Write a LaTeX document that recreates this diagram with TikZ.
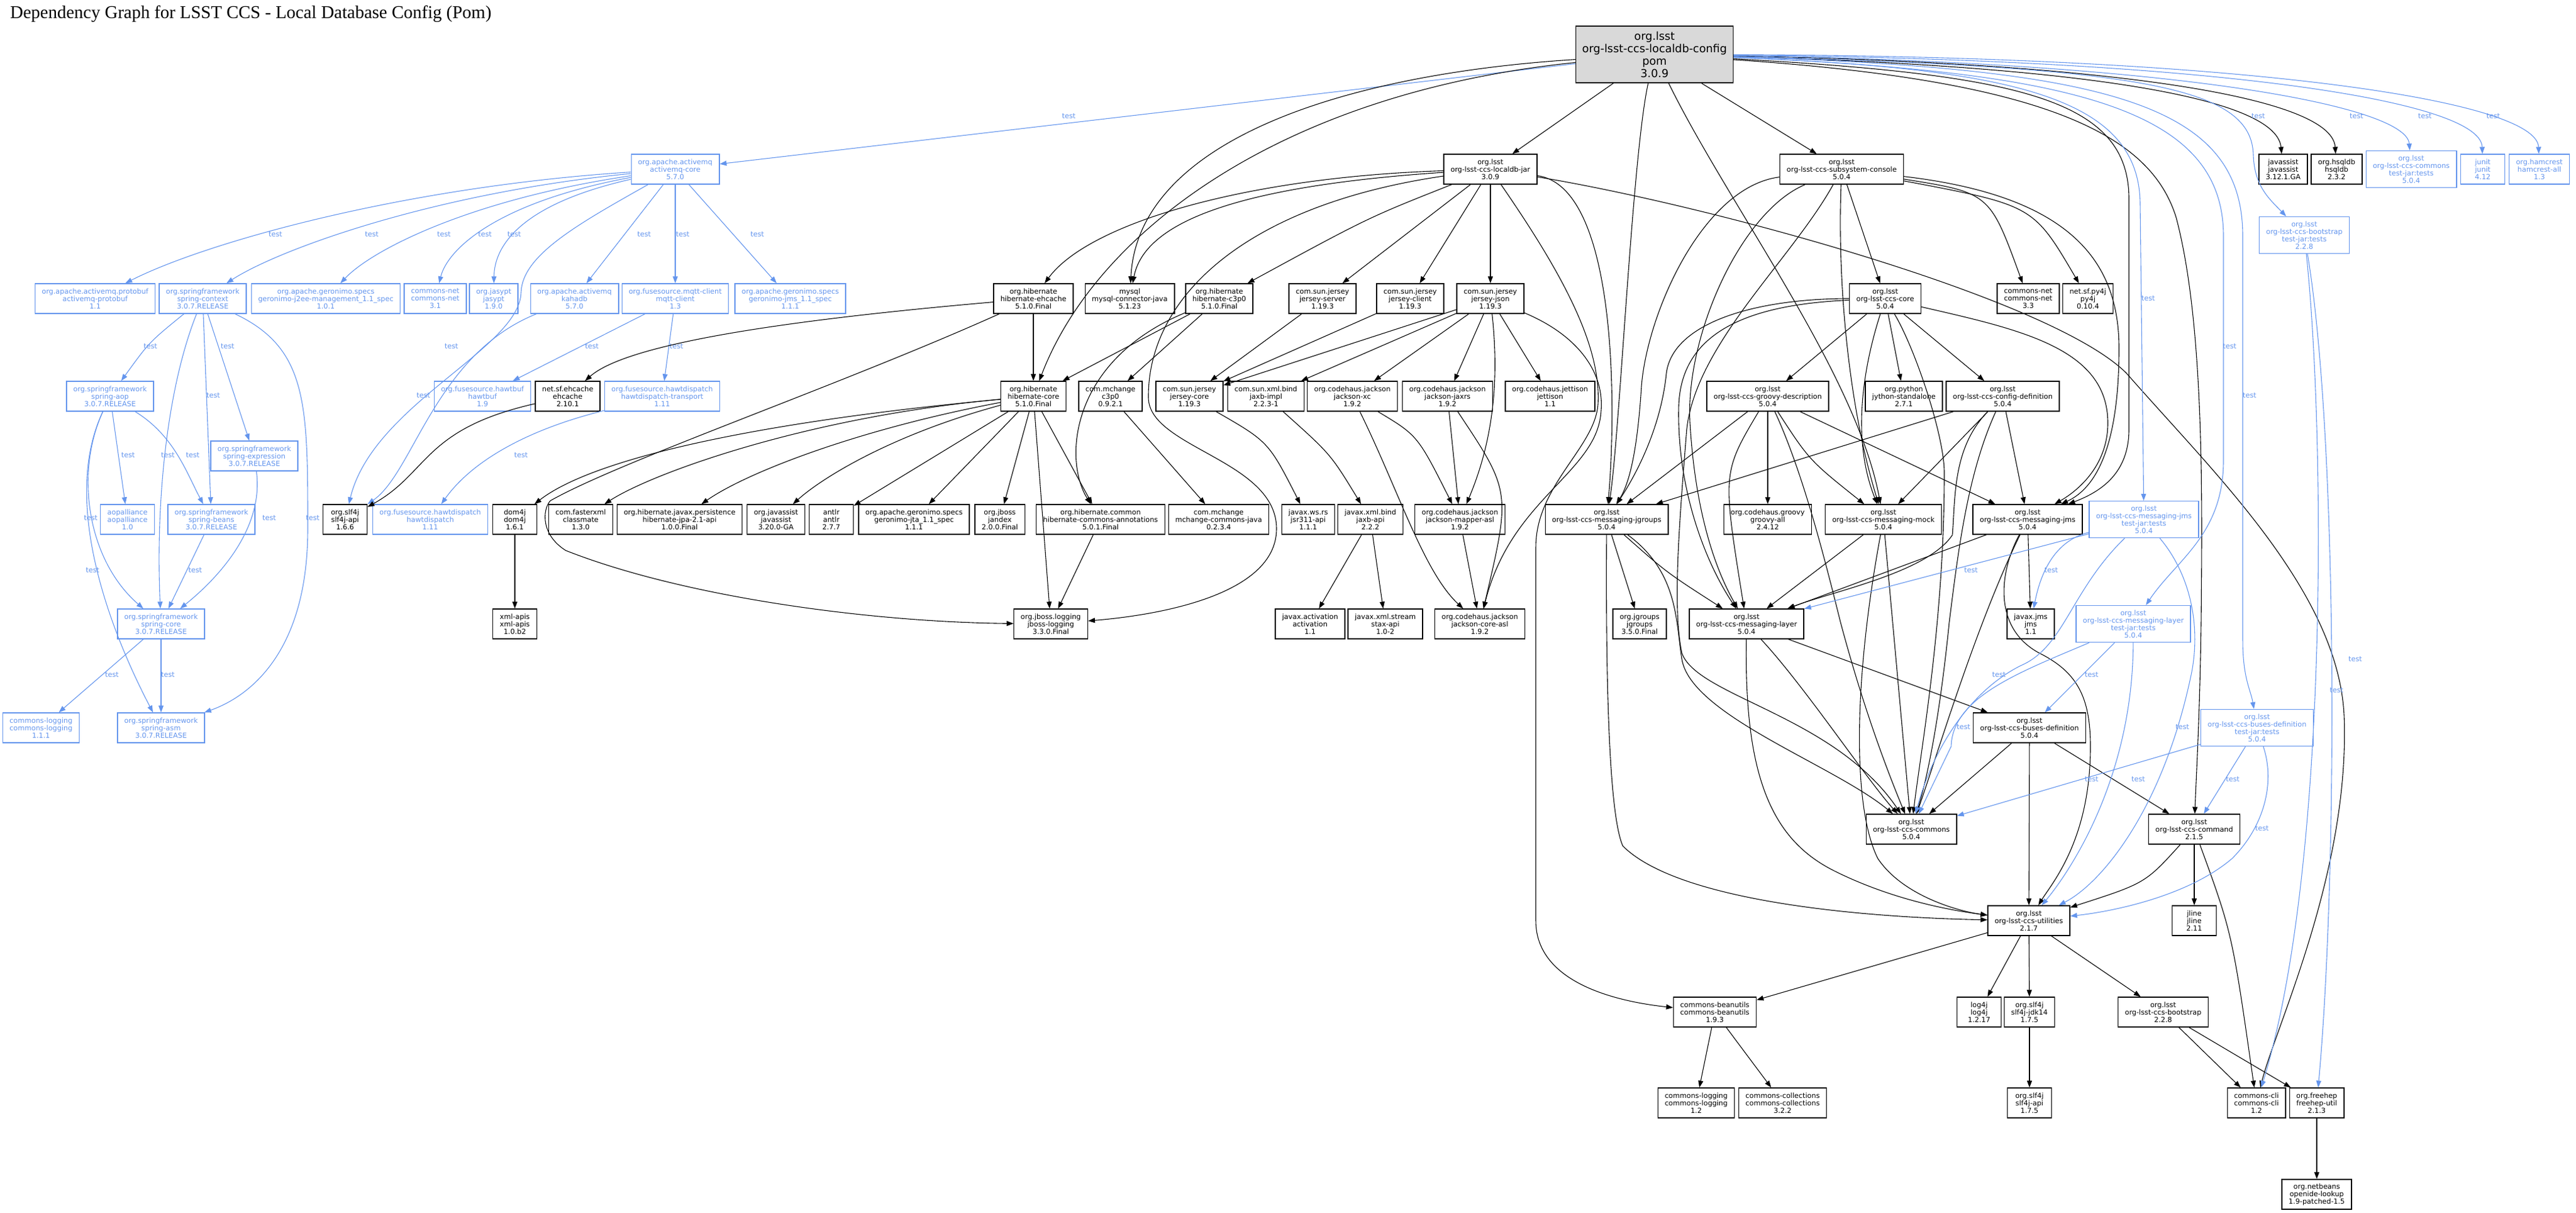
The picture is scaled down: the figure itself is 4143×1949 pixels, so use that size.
\documentclass[tikz,border=0pt]{standalone}
\usepackage{fontspec}
\usetikzlibrary{arrows.meta}
\newfontfamily\dvs{DejaVu Sans}
\newfontfamily\lser{Liberation Serif}
\definecolor{tblue}{RGB}{100,149,237}
\definecolor{rootgray}{RGB}{217,217,217}
\begin{document}
\begin{tikzpicture}[x=0.5pt,y=-0.5pt,
  box/.style={draw, rectangle, align=center, font=\dvs\fontsize{5.65pt}{6pt}\selectfont, inner xsep=5.5pt, inner ysep=0pt, minimum height=24pt, minimum width=35.5pt, line width=0.7pt},
  bk/.style={box, draw=black, text=black},
  bl/.style={box, draw=tblue, text=tblue},
  bl4/.style={bl, minimum height=29.5pt},
  dep/.style={draw=black, line width=0.55pt, -{Triangle[length=5.5pt,width=4pt]}},
  tst/.style={draw=tblue, line width=0.55pt, -{Triangle[length=5.5pt,width=4pt]}},
  lbl/.style={text=tblue, font=\dvs\fontsize{5.65pt}{6pt}\selectfont, inner sep=0pt},
]
\useasboundingbox (0,0) rectangle (4143,1949);
\node[anchor=base west, font=\lser\fontsize{14.5pt}{16pt}\selectfont, inner sep=0pt] (title) at (16,29) {Dependency Graph for LSST CCS - Local Database Config (Pom)};

% ---------- root ----------
\node[draw, fill=rootgray, align=center, font=\dvs\fontsize{8.9pt}{10pt}\selectfont, inner xsep=5pt, inner ysep=0pt, minimum height=45.5pt, line width=0.8pt] (root) at (2661,87.5) {org.lsst\\org-lsst-ccs-localdb-config\\pom\\3.0.9};

% ---------- blue (test) nodes, left ----------
\node[bl] (amqcore) at (1086,272) {org.apache.activemq\\activemq-core\\5.7.0};
\node[bl] (protobuf) at (153,480) {org.apache.activemq.protobuf\\activemq-protobuf\\1.1};
\node[bl] (springctx) at (326,480) {org.springframework\\spring-context\\3.0.7.RELEASE};
\node[bl] (j2ee) at (524,480) {org.apache.geronimo.specs\\geronimo-j2ee-management\_1.1\_spec\\1.0.1};
\node[bl] (cnet31) at (700,480) {commons-net\\commons-net\\3.1};
\node[bl] (jasypt) at (794,480) {org.jasypt\\jasypt\\1.9.0};
\node[bl] (kahadb) at (924,480) {org.apache.activemq\\kahadb\\5.7.0};
\node[bl] (mqtt) at (1086,480) {org.fusesource.mqtt-client\\mqtt-client\\1.3};
\node[bl] (gjms) at (1271,480) {org.apache.geronimo.specs\\geronimo-jms\_1.1\_spec\\1.1.1};
\node[bl] (springaop) at (177,637) {org.springframework\\spring-aop\\3.0.7.RELEASE};
\node[bl] (hawtbuf) at (776,637) {org.fusesource.hawtbuf\\hawtbuf\\1.9};
\node[bl] (hdtrans) at (1065,637) {org.fusesource.hawtdispatch\\hawtdispatch-transport\\1.11};
\node[bl] (springexp) at (409,733) {org.springframework\\spring-expression\\3.0.7.RELEASE};
\node[bl] (aopall) at (205,835) {aopalliance\\aopalliance\\1.0};
\node[bl] (springbeans) at (340,835) {org.springframework\\spring-beans\\3.0.7.RELEASE};
\node[bl] (hawtdisp) at (692,835) {org.fusesource.hawtdispatch\\hawtdispatch\\1.11};
\node[bl] (springcore) at (259,1003) {org.springframework\\spring-core\\3.0.7.RELEASE};
\node[bl] (clog111) at (66,1170) {commons-logging\\commons-logging\\1.1.1};
\node[bl] (springasm) at (259,1170) {org.springframework\\spring-asm\\3.0.7.RELEASE};

% ---------- black nodes, left/middle ----------
\node[bk] (jar) at (2397,272) {org.lsst\\org-lsst-ccs-localdb-jar\\3.0.9};
\node[bk] (hibehc) at (1662,480) {org.hibernate\\hibernate-ehcache\\5.1.0.Final};
\node[bk] (mysql) at (1817,480) {mysql\\mysql-connector-java\\5.1.23};
\node[bk] (hibc3p0) at (1961,480) {org.hibernate\\hibernate-c3p0\\5.1.0.Final};
\node[bk] (jserver) at (2127,480) {com.sun.jersey\\jersey-server\\1.19.3};
\node[bk] (jclient) at (2268,480) {com.sun.jersey\\jersey-client\\1.19.3};
\node[bk] (jjson) at (2397,480) {com.sun.jersey\\jersey-json\\1.19.3};
\node[bk] (ehcache) at (913,637) {net.sf.ehcache\\ehcache\\2.10.1};
\node[bk] (hibcore) at (1662,637) {org.hibernate\\hibernate-core\\5.1.0.Final};
\node[bk] (c3p0) at (1786,637) {com.mchange\\c3p0\\0.9.2.1};
\node[bk] (jcore) at (1913,637) {com.sun.jersey\\jersey-core\\1.19.3};
\node[bk] (jaxbimpl) at (2036,637) {com.sun.xml.bind\\jaxb-impl\\2.2.3-1};
\node[bk] (jxc) at (2175,637) {org.codehaus.jackson\\jackson-xc\\1.9.2};
\node[bk] (jjaxrs) at (2328,637) {org.codehaus.jackson\\jackson-jaxrs\\1.9.2};
\node[bk] (jettison) at (2493,637) {org.codehaus.jettison\\jettison\\1.1};
\node[bk] (slf166) at (555,835) {org.slf4j\\slf4j-api\\1.6.6};
\node[bk] (dom4j) at (828,835) {dom4j\\dom4j\\1.6.1};
\node[bk] (classmate) at (934,835) {com.fasterxml\\classmate\\1.3.0};
\node[bk] (hibjpa) at (1093,835) {org.hibernate.javax.persistence\\hibernate-jpa-2.1-api\\1.0.0.Final};
\node[bk] (jassist320) at (1248,835) {org.javassist\\javassist\\3.20.0-GA};
\node[bk] (antlr) at (1337,835) {antlr\\antlr\\2.7.7};
\node[bk] (gjta) at (1470,835) {org.apache.geronimo.specs\\geronimo-jta\_1.1\_spec\\1.1.1};
\node[bk] (jandex) at (1608,835) {org.jboss\\jandex\\2.0.0.Final};
\node[bk] (hibann) at (1770,835) {org.hibernate.common\\hibernate-commons-annotations\\5.0.1.Final};
\node[bk] (mchange) at (1960,835) {com.mchange\\mchange-commons-java\\0.2.3.4};
\node[bk] (jsr311) at (2104,835) {javax.ws.rs\\jsr311-api\\1.1.1};
\node[bk] (jaxbapi) at (2204,835) {javax.xml.bind\\jaxb-api\\2.2.2};
\node[bk] (jmapper) at (2348,835) {org.codehaus.jackson\\jackson-mapper-asl\\1.9.2};
\node[bk] (xmlapis) at (828,1003) {xml-apis\\xml-apis\\1.0.b2};
\node[bk] (jbosslog) at (1690,1003) {org.jboss.logging\\jboss-logging\\3.3.0.Final};
\node[bk] (activation) at (2107,1003) {javax.activation\\activation\\1.1};
\node[bk] (stax) at (2228,1003) {javax.xml.stream\\stax-api\\1.0-2};
\node[bk] (jcoreasl) at (2380,1003) {org.codehaus.jackson\\jackson-core-asl\\1.9.2};

% ---------- LSST nodes ----------
\node[bk] (console) at (2962,272) {org.lsst\\org-lsst-ccs-subsystem-console\\5.0.4};
\node[bk] (javassist312) at (3672,272) {javassist\\javassist\\3.12.1.GA};
\node[bk] (hsqldb) at (3758,272) {org.hsqldb\\hsqldb\\2.3.2};
\node[bl4] (commonstj) at (3878,272) {org.lsst\\org-lsst-ccs-commons\\test-jar:tests\\5.0.4};
\node[bl] (junit) at (3993,272) {junit\\junit\\4.12};
\node[bl] (hamcrest) at (4084,272) {org.hamcrest\\hamcrest-all\\1.3};
\node[bl4] (bootstraptj) at (3706,378) {org.lsst\\org-lsst-ccs-bootstrap\\test-jar:tests\\2.2.8};
\node[bk] (ccscore) at (3032,480) {org.lsst\\org-lsst-ccs-core\\5.0.4};
\node[bk] (cnet33) at (3262,480) {commons-net\\commons-net\\3.3};
\node[bk] (py4j) at (3358,480) {net.sf.py4j\\py4j\\0.10.4};
\node[bk] (groovydesc) at (2843,637) {org.lsst\\org-lsst-ccs-groovy-description\\5.0.4};
\node[bk] (jython) at (3062,637) {org.python\\jython-standalone\\2.7.1};
\node[bk] (configdef) at (3221,637) {org.lsst\\org-lsst-ccs-config-definition\\5.0.4};
\node[bk] (jgmsg) at (2584,835) {org.lsst\\org-lsst-ccs-messaging-jgroups\\5.0.4};
\node[bk] (groovyall) at (2843,835) {org.codehaus.groovy\\groovy-all\\2.4.12};
\node[bk] (msgmock) at (3029,835) {org.lsst\\org-lsst-ccs-messaging-mock\\5.0.4};
\node[bk] (msgjms) at (3261,835) {org.lsst\\org-lsst-ccs-messaging-jms\\5.0.4};
\node[bl4] (jmstj) at (3448,835) {org.lsst\\org-lsst-ccs-messaging-jms\\test-jar:tests\\5.0.4};
\node[bk] (jgroups) at (2637,1003) {org.jgroups\\jgroups\\3.5.0.Final};
\node[bk] (msglayer) at (2809,1003) {org.lsst\\org-lsst-ccs-messaging-layer\\5.0.4};
\node[bk] (jms) at (3266,1003) {javax.jms\\jms\\1.1};
\node[bl4] (layertj) at (3431,1003) {org.lsst\\org-lsst-ccs-messaging-layer\\test-jar:tests\\5.0.4};
\node[bk] (busesdef) at (3264,1170) {org.lsst\\org-lsst-ccs-buses-definition\\5.0.4};
\node[bl4] (busestj) at (3630,1170) {org.lsst\\org-lsst-ccs-buses-definition\\test-jar:tests\\5.0.4};
\node[bk] (ccscommons) at (3074,1333) {org.lsst\\org-lsst-ccs-commons\\5.0.4};
\node[bk] (ccscommand) at (3529,1333) {org.lsst\\org-lsst-ccs-command\\2.1.5};
\node[bk] (utilities) at (3263,1480) {org.lsst\\org-lsst-ccs-utilities\\2.1.7};
\node[bk] (jline) at (3529,1480) {jline\\jline\\2.11};
\node[bk] (beanutils) at (2758,1627) {commons-beanutils\\commons-beanutils\\1.9.3};
\node[bk] (log4j) at (3183,1627) {log4j\\log4j\\1.2.17};
\node[bk] (slfjdk) at (3264,1627) {org.slf4j\\slf4j-jdk14\\1.7.5};
\node[bk] (bootstrap) at (3479,1627) {org.lsst\\org-lsst-ccs-bootstrap\\2.2.8};
\node[bk] (clog12) at (2728,1773) {commons-logging\\commons-logging\\1.2};
\node[bk] (ccoll) at (2867,1773) {commons-collections\\commons-collections\\3.2.2};
\node[bk] (slf175) at (3264,1773) {org.slf4j\\slf4j-api\\1.7.5};
\node[bk] (ccli) at (3629,1773) {commons-cli\\commons-cli\\1.2};
\node[bk] (freehep) at (3726,1773) {org.freehep\\freehep-util\\2.1.3};
\node[bk] (netbeans) at (3726,1920) {org.netbeans\\openide-lookup\\1.9-patched-1.5};

% ---------- blue edges, left ----------
\draw[tst] (root) -- (amqcore);
\draw[tst] (amqcore) .. controls (650,300) and (330,390) .. (protobuf);
\draw[tst] (amqcore) .. controls (700,310) and (450,400) .. (springctx);
\draw[tst] (amqcore) .. controls (760,320) and (600,400) .. (j2ee);
\draw[tst] (amqcore) .. controls (800,325) and (720,400) .. (cnet31);
\draw[tst] (amqcore) .. controls (830,330) and (795,400) .. (jasypt);
\draw[tst] (amqcore) -- (kahadb);
\draw[tst] (amqcore) -- (mqtt);
\draw[tst] (amqcore) -- (gjms);
\draw[tst] (amqcore) .. controls (930,360) and (840,410) .. (838,470) .. controls (836,560) and (600,650) .. (slf166);
\draw[tst] (kahadb) .. controls (700,570) and (665,760) .. (slf166);
\draw[tst] (springctx) .. controls (240,550) .. (springaop);
\draw[tst] (springctx) -- (springexp);
\draw[tst] (springctx) -- (springbeans);
\draw[tst] (springctx) .. controls (270,620) and (250,800) .. (springcore);
\draw[tst] (springctx) .. controls (495,560) and (495,650) .. (495,850) .. controls (495,1050) and (400,1120) .. (springasm);
\draw[tst] (springaop) -- (aopall);
\draw[tst] (springaop) .. controls (280,700) and (300,760) .. (springbeans);
\draw[tst] (springaop) .. controls (120,760) and (140,900) .. (springcore);
\draw[tst] (springaop) .. controls (100,800) and (170,1000) .. (springasm);
\draw[tst] (springexp) .. controls (425,850) and (350,930) .. (springcore);
\draw[tst] (springbeans) -- (springcore);
\draw[tst] (springcore) -- (clog111);
\draw[tst] (springcore) -- (springasm);
\draw[tst] (mqtt) -- (hawtbuf);
\draw[tst] (mqtt) -- (hdtrans);
\draw[tst] (hdtrans) .. controls (850,690) and (760,740) .. (hawtdisp);

\node[lbl] (t01) at (1719,187) {test};
\node[lbl] (t02) at (443,377) {test};
\node[lbl] (t03) at (598,377) {test};
\node[lbl] (t04) at (714,377) {test};
\node[lbl] (t05) at (780,377) {test};
\node[lbl] (t06) at (827,377) {test};
\node[lbl] (t07) at (1036,377) {test};
\node[lbl] (t08) at (1098,377) {test};
\node[lbl] (t09) at (1218,377) {test};
\node[lbl] (t10) at (242,557) {test};
\node[lbl] (t11) at (366,557) {test};
\node[lbl] (t12) at (726,557) {test};
\node[lbl] (t13) at (952,557) {test};
\node[lbl] (t14) at (1088,557) {test};
\node[lbl] (t15) at (343,636) {test};
\node[lbl] (t16) at (681,636) {test};
\node[lbl] (t17) at (206,732) {test};
\node[lbl] (t18) at (270,732) {test};
\node[lbl] (t19) at (310,732) {test};
\node[lbl] (t20) at (838,732) {test};
\node[lbl] (t21) at (146,833) {test};
\node[lbl] (t22) at (433,833) {test};
\node[lbl] (t23) at (503,833) {test};
\node[lbl] (t24) at (149,917) {test};
\node[lbl] (t25) at (314,917) {test};
\node[lbl] (t26) at (180,1085) {test};
\node[lbl] (t27) at (270,1085) {test};

% ---------- black edges, hibernate / jersey ----------
\draw[dep] (root) .. controls (2150,120) and (1830,230) .. (mysql);
\draw[dep] (root) .. controls (2050,150) and (1760,380) .. (hibcore);
\draw[dep] (root) -- (jar);
\draw[dep] (jar) .. controls (2000,285) and (1750,360) .. (hibehc);
\draw[dep] (jar) .. controls (1980,300) and (1840,360) .. (mysql);
\draw[dep] (jar) .. controls (2200,350) .. (hibc3p0);
\draw[dep] (jar) -- (jserver);
\draw[dep] (jar) -- (jclient);
\draw[dep] (jar) -- (jjson);
\draw[dep] (jar) .. controls (2000,330) and (1845,480) .. (1847,640) .. controls (1849,720) and (2053,740) .. (2053,850) .. controls (2053,960) and (1850,990) .. (jbosslog);
\draw[dep] (hibehc) -- (hibcore);
\draw[dep] (hibehc) .. controls (1200,520) and (1000,560) .. (ehcache);
\draw[dep] (hibehc) .. controls (1350,620) and (1000,740) .. (885,805) .. controls (872,820) and (870,860) .. (910,885) .. controls (1100,960) and (1400,1000) .. (jbosslog);
\draw[dep] (hibcore) .. controls (1200,680) and (950,740) .. (dom4j);
\draw[dep] (hibcore) .. controls (1300,670) and (1050,760) .. (classmate);
\draw[dep] (hibcore) .. controls (1380,690) and (1200,760) .. (hibjpa);
\draw[dep] (hibcore) .. controls (1430,700) and (1320,770) .. (jassist320);
\draw[dep] (hibcore) -- (antlr);
\draw[dep] (hibcore) -- (gjta);
\draw[dep] (hibcore) -- (jandex);
\draw[dep] (hibcore) -- (jbosslog);
\draw[dep] (hibcore) -- (hibann);
\draw[dep] (hibann) -- (jbosslog);
\draw[dep] (hibc3p0) -- (hibcore);
\draw[dep] (hibc3p0) .. controls (1720,580) and (1710,740) .. (hibann);
\draw[dep] (hibc3p0) -- (c3p0);
\draw[dep] (c3p0) -- (mchange);
\draw[dep] (dom4j) -- (xmlapis);
\draw[dep] (ehcache) .. controls (680,690) and (690,760) .. (slf166);
\draw[dep] (jserver) -- (jcore);
\draw[dep] (jclient) -- (jcore);
\draw[dep] (jjson) -- (jcore);
\draw[dep] (jjson) -- (jaxbimpl);
\draw[dep] (jjson) -- (jxc);
\draw[dep] (jjson) -- (jjaxrs);
\draw[dep] (jjson) -- (jettison);
\draw[dep] (jjson) .. controls (2410,600) and (2405,700) .. (jmapper);
\draw[dep] (jjson) .. controls (2540,540) and (2580,600) .. (2575,660) .. controls (2570,760) and (2430,800) .. (jcoreasl);
\draw[dep] (jxc) .. controls (2280,700) .. (jmapper);
\draw[dep] (jxc) .. controls (2250,790) and (2290,920) .. (jcoreasl);
\draw[dep] (jjaxrs) -- (jmapper);
\draw[dep] (jjaxrs) .. controls (2430,790) .. (jcoreasl);
\draw[dep] (jmapper) -- (jcoreasl);
\draw[dep] (jcore) .. controls (2040,710) .. (jsr311);
\draw[dep] (jaxbimpl) .. controls (2140,730) .. (jaxbapi);
\draw[dep] (jaxbapi) -- (activation);
\draw[dep] (jaxbapi) -- (stax);

% ---------- black edges, LSST ----------
\draw[dep] (root) -- (console);
\draw[dep] (root) .. controls (2625,250) and (2605,700) .. (jgmsg);
\draw[dep] (root) .. controls (2780,330) and (2985,600) .. (msgmock);
\draw[dep] (root) .. controls (3250,120) and (3424,160) .. (3424,320) -- (3424,690) .. controls (3424,760) and (3380,790) .. (msgjms);
\draw[dep] (root) .. controls (3300,130) and (3460,220) .. (3500,350) .. controls (3545,520) and (3542,800) .. (3540,1000) .. controls (3538,1150) and (3532,1250) .. (ccscommand);
\draw[dep] (root) .. controls (3300,105) and (3660,150) .. (javassist312);
\draw[dep] (root) .. controls (3350,100) and (3750,150) .. (hsqldb);
\draw[dep] (jar) .. controls (2600,300) and (2600,650) .. (jgmsg);
\draw[dep] (jar) .. controls (2520,450) and (2575,560) .. (2570,650) .. controls (2565,720) and (2470,780) .. (2470,880) -- (2470,1480) .. controls (2470,1580) and (2600,1610) .. (beanutils);
\draw[dep] (jar) .. controls (2750,330) and (3300,480) .. (3420,600) .. controls (3560,760) and (3760,950) .. (3770,1150) .. controls (3780,1400) and (3660,1650) .. (ccli);
\draw[dep] (console) -- (ccscore);
\draw[dep] (console) .. controls (3200,310) .. (cnet33);
\draw[dep] (console) .. controls (3270,330) .. (py4j);
\draw[dep] (console) .. controls (3330,315) and (3408,420) .. (3408,560) .. controls (3408,720) and (3370,785) .. (msgjms);
\draw[dep] (console) .. controls (2955,450) and (2972,650) .. (msgmock);
\draw[dep] (console) .. controls (2740,300) and (2650,500) .. (2640,620) .. controls (2635,700) and (2625,770) .. (jgmsg);
\draw[dep] (console) .. controls (2800,340) and (2710,540) .. (2718,680) .. controls (2725,800) and (2750,900) .. (msglayer);
\draw[dep] (console) .. controls (2880,420) and (2720,560) .. (2712,700) .. controls (2700,850) and (2690,980) .. (2705,1050) .. controls (2730,1120) and (2950,1150) .. (ccscommons);
\draw[dep] (ccscore) -- (groovydesc);
\draw[dep] (ccscore) -- (jython);
\draw[dep] (ccscore) -- (configdef);
\draw[dep] (ccscore) .. controls (3000,580) and (2975,700) .. (msgmock);
\draw[dep] (ccscore) .. controls (3250,530) and (3390,560) .. (3390,680) .. controls (3390,750) and (3340,790) .. (msgjms);
\draw[dep] (ccscore) .. controls (2800,490) and (2705,540) .. (2700,650) .. controls (2696,780) and (2740,900) .. (msglayer);
\draw[dep] (ccscore) .. controls (2820,480) and (2690,520) .. (2680,600) .. controls (2670,700) and (2620,780) .. (jgmsg);
\draw[dep] (ccscore) .. controls (3080,560) and (3127,700) .. (3127,760) .. controls (3127,1000) and (3090,1200) .. (ccscommons);
\draw[dep] (groovydesc) -- (groovyall);
\draw[dep] (groovydesc) .. controls (2770,760) .. (msglayer);
\draw[dep] (groovydesc) .. controls (2910,740) .. (msgmock);
\draw[dep] (groovydesc) -- (msgjms);
\draw[dep] (groovydesc) -- (jgmsg);
\draw[dep] (groovydesc) .. controls (2900,760) and (2935,900) .. (2960,1000) .. controls (3000,1150) and (3040,1250) .. (ccscommons);
\draw[dep] (configdef) -- (jgmsg);
\draw[dep] (configdef) -- (msgmock);
\draw[dep] (configdef) -- (msgjms);
\draw[dep] (configdef) .. controls (3140,720) and (3145,800) .. (3140,860) .. controls (3100,920) and (2950,950) .. (msglayer);
\draw[dep] (configdef) .. controls (3165,760) and (3150,880) .. (3135,1000) .. controls (3120,1150) and (3100,1250) .. (ccscommons);
\draw[dep] (jgmsg) -- (jgroups);
\draw[dep] (jgmsg) .. controls (2680,920) .. (msglayer);
\draw[dep] (jgmsg) .. controls (2700,920) and (2695,1000) .. (2705,1060) .. controls (2720,1150) and (2950,1230) .. (ccscommons);
\draw[dep] (jgmsg) .. controls (2583,1000) and (2583,1300) .. (2610,1360) .. controls (2700,1450) and (3000,1475) .. (utilities);
\draw[dep] (msgmock) -- (msglayer);
\draw[dep] (msgmock) -- (ccscommons);
\draw[dep] (msgmock) .. controls (2980,1100) and (2980,1300) .. (3020,1380) .. controls (3060,1440) and (3150,1465) .. (utilities);
\draw[dep] (msgjms) -- (msglayer);
\draw[dep] (msgjms) -- (jms);
\draw[dep] (msgjms) .. controls (3180,1000) and (3120,1200) .. (ccscommons);
\draw[dep] (msgjms) .. controls (3215,920) and (3205,1010) .. (3280,1050) .. controls (3340,1080) and (3362,1120) .. (3362,1200) .. controls (3362,1350) and (3300,1420) .. (utilities);
\draw[dep] (msglayer) -- (busesdef);
\draw[dep] (msglayer) .. controls (2900,1100) and (3000,1250) .. (ccscommons);
\draw[dep] (msglayer) .. controls (2805,1250) and (2850,1350) .. (2950,1400) .. controls (3050,1450) and (3150,1465) .. (utilities);
\draw[dep] (busesdef) -- (ccscommons);
\draw[dep] (busesdef) -- (utilities);
\draw[dep] (busesdef) -- (ccscommand);
\draw[dep] (ccscommand) .. controls (3450,1420) .. (utilities);
\draw[dep] (ccscommand) -- (jline);
\draw[dep] (ccscommand) .. controls (3590,1500) .. (ccli);
\draw[dep] (utilities) -- (beanutils);
\draw[dep] (utilities) -- (log4j);
\draw[dep] (utilities) -- (slfjdk);
\draw[dep] (utilities) -- (bootstrap);
\draw[dep] (beanutils) -- (clog12);
\draw[dep] (beanutils) -- (ccoll);
\draw[dep] (slfjdk) -- (slf175);
\draw[dep] (bootstrap) -- (ccli);
\draw[dep] (bootstrap) -- (freehep);
\draw[dep] (freehep) -- (netbeans);

% ---------- blue edges, right ----------
\draw[tst] (root) .. controls (3250,110) and (3442,160) .. (3442,330) -- (jmstj);
\draw[tst] (root) .. controls (3350,115) and (3576,180) .. (3576,380) -- (3576,740) .. controls (3576,860) and (3500,900) .. (layertj);
\draw[tst] (root) .. controls (3400,110) and (3607,170) .. (3607,380) -- (3607,1030) .. controls (3607,1090) and (3620,1110) .. (busestj);
\draw[tst] (root) .. controls (3450,108) and (3622,140) .. (3624,250) .. controls (3626,300) and (3650,320) .. (bootstraptj);
\draw[tst] (root) .. controls (3500,100) and (3870,170) .. (commonstj);
\draw[tst] (root) .. controls (3550,95) and (3990,160) .. (junit);
\draw[tst] (root) .. controls (3600,90) and (4080,160) .. (hamcrest);
\draw[tst] (jmstj) -- (msglayer);
\draw[tst] (jmstj) .. controls (3300,870) and (3280,930) .. (jms);
\draw[tst] (jmstj) .. controls (3330,950) and (3320,1040) .. (3250,1070) .. controls (3170,1110) and (3110,1200) .. (ccscommons);
\draw[tst] (jmstj) .. controls (3520,920) and (3540,1000) .. (3525,1080) .. controls (3480,1300) and (3380,1420) .. (utilities);
\draw[tst] (layertj) .. controls (3250,1080) and (3140,1120) .. (3138,1200) -- (ccscommons);
\draw[tst] (layertj) -- (busesdef);
\draw[tst] (layertj) .. controls (3430,1250) and (3330,1400) .. (utilities);
\draw[tst] (busestj) -- (ccscommons);
\draw[tst] (busestj) -- (ccscommand);
\draw[tst] (busestj) .. controls (3660,1260) and (3640,1330) .. (3590,1380) .. controls (3520,1440) and (3400,1465) .. (utilities);
\draw[tst] (bootstraptj) .. controls (3740,700) and (3745,1400) .. (ccli);
\draw[tst] (bootstraptj) .. controls (3760,700) and (3760,1400) .. (freehep);

\node[lbl] (t30) at (3632,187) {test};
\node[lbl] (t31) at (3790,187) {test};
\node[lbl] (t32) at (3900,187) {test};
\node[lbl] (t33) at (4010,187) {test};
\node[lbl] (t34) at (3455,480) {test};
\node[lbl] (t35) at (3586,557) {test};
\node[lbl] (t36) at (3618,636) {test};
\node[lbl] (t37) at (3170,917) {test};
\node[lbl] (t38) at (3299,917) {test};
\node[lbl] (t39) at (3215,1085) {test};
\node[lbl] (t40) at (3364,1085) {test};
\node[lbl] (t41) at (3158,1169) {test};
\node[lbl] (t42) at (3510,1169) {test};
\node[lbl] (t43) at (3364,1253) {test};
\node[lbl] (t44) at (3439,1253) {test};
\node[lbl] (t45) at (3591,1253) {test};
\node[lbl] (t46) at (3638,1332) {test};
\node[lbl] (t47) at (3758,1110) {test};
\node[lbl] (t48) at (3788,1060) {test};
\end{tikzpicture}
\end{document}
